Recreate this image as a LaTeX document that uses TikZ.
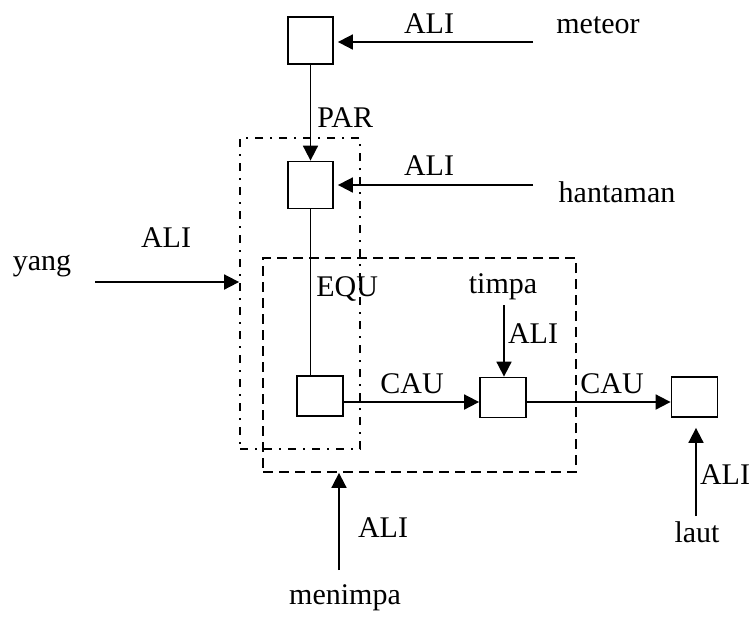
\documentclass[tikz,border=0pt]{standalone}
\usepackage{fontspec}
\setmainfont{Liberation Serif}
\usetikzlibrary{arrows.meta,positioning}
\tikzset{
  concept/.style={rectangle, draw, line width=0.9pt, minimum width=22.5pt, minimum height=23.5pt, inner sep=0pt},
  flatconcept/.style={concept, minimum width=23pt, minimum height=20pt},
  word/.style={font=\fontsize{15}{18}\selectfont, inner sep=0pt, anchor=base},
  rel/.style={word},
  arrow/.style={-{Triangle[length=7.5pt,width=7.5pt]}, line width=0.9pt},
  ctxdash/.style={draw, line width=0.9pt, dash pattern=on 5pt off 3pt, inner sep=0pt},
  ctxdot/.style={draw, line width=0.9pt, dash pattern=on 4pt off 3.5pt on 1pt off 3.5pt, inner sep=0pt}
}
\begin{document}
\begin{tikzpicture}[x=0.5pt, y=-0.5pt]
\useasboundingbox (0,0) rectangle (755,617);
% contexts
\node[ctxdot, minimum width=60pt, minimum height=155.5pt] (ctxa) at (300,293.5) {};
\node[ctxdash, minimum width=156.5pt, minimum height=107pt] (ctxb) at (419.5,365) {};
% concepts
\node[concept] (c1) at (310.5,40.5) {};
\node[concept] (c2) at (310.5,185) {};
\node[flatconcept] (c3) at (320,396) {};
\node[flatconcept] (c4) at (503,397.5) {};
\node[flatconcept] (c5) at (694.5,397) {};
% words
\node[word] (meteor) at (598,33) {meteor};
\node[word] (hantaman) at (617,202) {hantaman};
\node[word] (yang) at (42,270) {yang};
\node[word] (timpa) at (503,293) {timpa};
\node[word] (menimpa) at (345,604) {menimpa};
\node[word] (laut) at (697,542) {laut};
% free ends
\coordinate (m0) at (533,42);
\coordinate (h0) at (533,185);
\coordinate (y0) at (95,282);
\coordinate (t0) at (504,305);
\coordinate (mn0) at (339,570);
\coordinate (l0) at (696,516);
% connectors
\draw[arrow, shorten >=2pt] (m0) -- (m0 -| c1.east);
\draw[arrow] (c1.south) -- (c2.north);
\draw[arrow, shorten >=2pt] (h0) -- (h0 -| c2.east);
\draw[arrow] (y0) -- (y0 -| ctxa.west);
\draw[line width=0.9pt] (c2.south) -- (c2.south |- c3.north);
\draw[arrow] ([yshift=-3pt]c3.east) -- ([yshift=-3pt]c3.east -| c4.west);
\draw[arrow] (t0) -- (t0 |- c4.north);
\draw[arrow] ([yshift=-2.25pt]c4.east) -- ([yshift=-2.25pt]c4.east -| c5.west);
\draw[arrow] (mn0) -- (mn0 |- ctxb.south);
\draw[arrow, shorten >=5pt] (l0) -- (l0 |- c5.south);
% relation labels
\node[rel] (ali1) at (429,33) {ALI};
\node[rel, anchor=base west] (par) at (317,127) {PAR};
\node[rel] (ali2) at (429,175) {ALI};
\node[rel] (ali3) at (166,247) {ALI};
\node[rel, anchor=base west] (equ) at (316,296) {EQU};
\node[rel] (ali4) at (533,343) {ALI};
\node[rel] (cau1) at (412,393) {CAU};
\node[rel] (cau2) at (612,393) {CAU};
\node[rel] (ali5) at (725,484) {ALI};
\node[rel] (ali6) at (383,537) {ALI};
\end{tikzpicture}
\end{document}
